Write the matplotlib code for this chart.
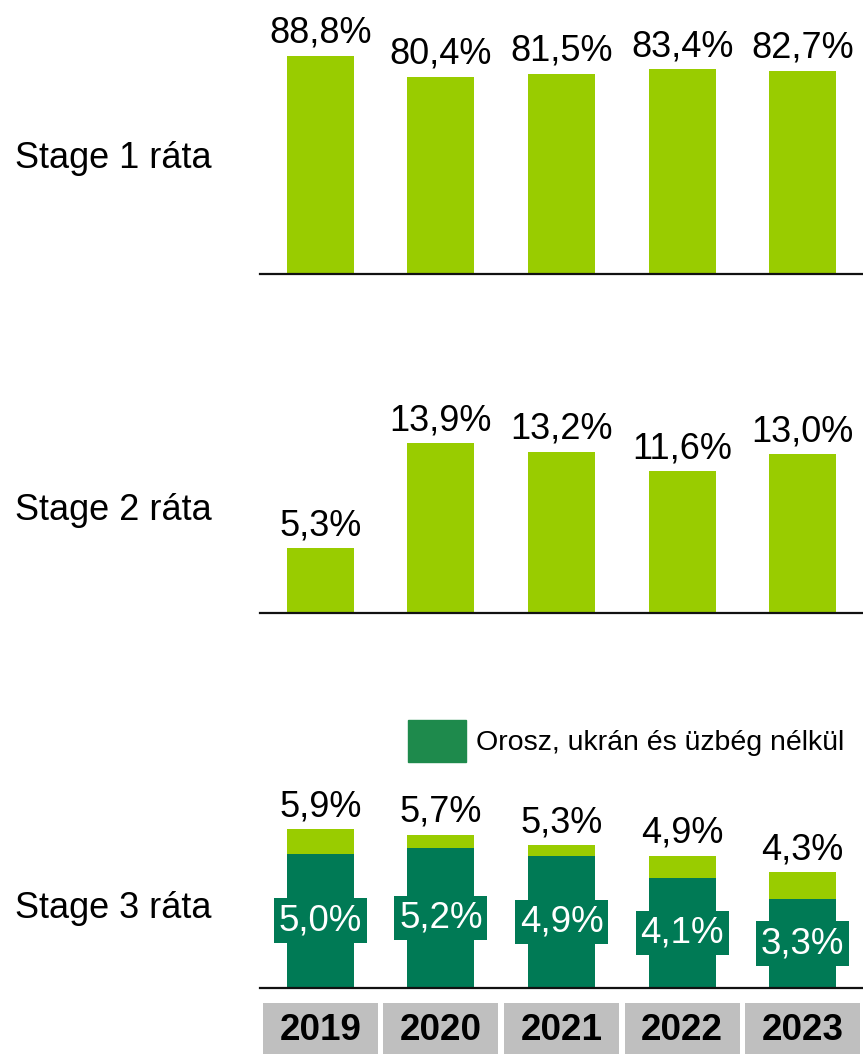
import matplotlib.pyplot as plt
from matplotlib.patches import Patch

plt.rcParams['font.family'] = ['Liberation Sans', 'DejaVu Sans']

# data
years = ['2019', '2020', '2021', '2022', '2023']
stage1 = [88.8, 80.4, 81.5, 83.4, 82.7]
stage2 = [5.3, 13.9, 13.2, 11.6, 13.0]
stage3_total = [5.9, 5.7, 5.3, 4.9, 4.3]
stage3_excl = [5.0, 5.2, 4.9, 4.1, 3.3]
row_labels = ['Stage 1 ráta', 'Stage 2 ráta', 'Stage 3 ráta']
legend_label = 'Orosz, ukrán és üzbég nélkül'

light = '#99CC00'
dark = '#007A55'
legend_col = '#1E8A4C'
grey = '#BFBFBF'

W, H = 863, 1054
fig = plt.figure(figsize=(W / 100, H / 100), dpi=100)


def fmt(v):
    return f'{v:.1f}%'.replace('.', ',')


def make_axes(base_px, top_px, ymax):
    ax = fig.add_axes([260 / W, (H - base_px) / H, 603 / W, (base_px - top_px) / H])
    ax.set_xlim(-0.5, 4.5)
    ax.set_ylim(0, ymax)
    for s in ['top', 'right', 'left']:
        ax.spines[s].set_visible(False)
    ax.spines['bottom'].set_linewidth(1.6)
    ax.spines['bottom'].set_color('#111111')
    ax.set_xticks([])
    ax.set_yticks([])
    ax.patch.set_alpha(0)
    return ax


x = range(len(years))
bw = 0.555

# panel 1
ax1 = make_axes(274, 274 - 100 * 2.455, 100)
ax1.bar(x, stage1, bw, color=light)
for i, v in enumerate(stage1):
    ax1.annotate(fmt(v), (i, v), xytext=(0, 9.5), textcoords='offset points',
                 ha='center', va='baseline', fontsize=26)

# panel 2
ax2 = make_axes(613, 613 - 16 * 12.2, 16)
ax2.bar(x, stage2, bw, color=light)
for i, v in enumerate(stage2):
    ax2.annotate(fmt(v), (i, v), xytext=(0, 9.5), textcoords='offset points',
                 ha='center', va='baseline', fontsize=26)

# panel 3
ax3 = make_axes(988, 988 - 7 * 26.9, 7)
ax3.bar(x, stage3_excl, bw, color=dark)
ax3.bar(x, [t - e for t, e in zip(stage3_total, stage3_excl)], bw,
        bottom=stage3_excl, color=light)
for i, (t, e) in enumerate(zip(stage3_total, stage3_excl)):
    ax3.annotate(fmt(t), (i, t), xytext=(0, 9.5), textcoords='offset points',
                 ha='center', va='baseline', fontsize=26)
    ax3.text(i, e / 2, fmt(e), ha='center', va='center', fontsize=26.5, color='white',
             bbox=dict(boxstyle='square,pad=0.13', fc=dark, ec='none'))

ax3.legend(handles=[Patch(color=legend_col, label=legend_label)],
           loc='lower left', bbox_to_anchor=(408 / W, (H - 762) / H),
           bbox_transform=fig.transFigure, frameon=False, fontsize=20.5,
           handlelength=2.04, handleheight=1.88, handletextpad=0.35,
           borderpad=0, borderaxespad=0)

# year row
axy = fig.add_axes([260 / W, 0, 603 / W, (H - 1003) / H])
axy.set_xlim(-0.5, 4.5)
axy.set_ylim(0, 1)
axy.axis('off')
axy.bar(x, [1] * len(years), 0.954, color=grey)
for i, yr in enumerate(years):
    axy.text(i, 0.47, yr, ha='center', va='center', fontsize=26.5, fontweight='bold')

# row labels
for lbl, yc in zip(row_labels, [158, 511, 908]):
    fig.text(15 / W, (H - yc) / H, lbl, ha='left', va='center', fontsize=26)

fig.savefig('out.png', dpi=100)
